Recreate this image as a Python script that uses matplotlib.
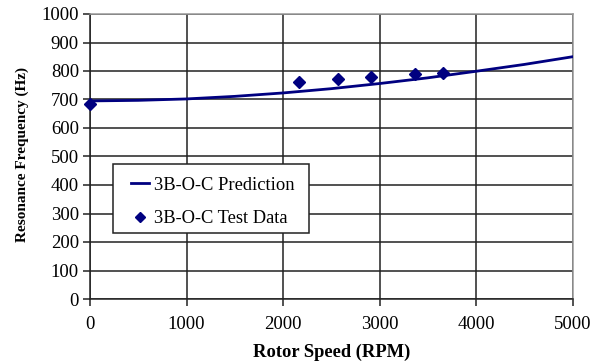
import matplotlib
matplotlib.use("Agg")
import matplotlib.pyplot as plt
from matplotlib.lines import Line2D
from matplotlib.patches import Rectangle

pred_rpm = [0, 500, 1000, 1500, 2000, 2500, 3000, 3500, 4000, 4500, 5000]
pred_freq = [695, 697, 702, 711, 723, 738, 756, 776, 799, 823, 850]
test_rpm = [0, 2170, 2570, 2910, 3370, 3655]
test_freq = [684, 762, 771, 778, 789, 794]
xticks = [0, 1000, 2000, 3000, 4000, 5000]
yticks = list(range(0, 1001, 100))

plt.rcParams['font.family'] = ['Liberation Serif', 'DejaVu Serif']

W, H = 482.5, 285.0
fig = plt.figure(figsize=(5.94, 3.64), dpi=100)
ax = fig.add_axes([90/594, 1 - 299/364, W/594, H/364])

navy = '#000080'
ax.plot(pred_rpm, pred_freq, color=navy, lw=2, zorder=3, label='3B-O-C Prediction')
ax.plot(test_rpm, test_freq, linestyle='none', marker='D', ms=6.5, color=navy,
        zorder=4, clip_on=False, label='3B-O-C Test Data')

ax.set_xlim(0, 5000)
ax.set_ylim(0, 1000)
ax.set_xticks(xticks)
ax.set_yticks(yticks)
ax.grid(True, color='#222222', lw=1.1)
ax.set_axisbelow(True)
ax.tick_params(axis='both', labelsize=13.5, direction='out', length=5, width=1.1, color='#222222')
ax.tick_params(axis='x', pad=7)
ax.tick_params(axis='y', pad=3)
for s in ['top', 'right']:
    ax.spines[s].set_color('#999999')
    ax.spines[s].set_linewidth(1.1)
for s in ['left', 'bottom']:
    ax.spines[s].set_color('#222222')
    ax.spines[s].set_linewidth(1.1)

ax.set_xlabel('Rotor Speed (RPM)', fontsize=13.3, fontweight='bold')
ax.set_ylabel('Resonance Frequency (Hz)', fontsize=11, fontweight='bold')
ax.xaxis.set_label_coords(0.5, -(352 - 299) / H, transform=ax.transAxes)
ax.xaxis.label.set_va('center')
ax.yaxis.set_label_coords(-(90 - 22) / W, (299 - 155) / H, transform=ax.transAxes)
ax.yaxis.label.set_va('center')

# legend frame
box = Rectangle(((113 - 90) / W, (299 - 233) / H), (309 - 113) / W, (233 - 164) / H,
                transform=ax.transAxes, facecolor='white', edgecolor='#222222',
                lw=1.1, zorder=5)
ax.add_patch(box)

handles = [Line2D([0], [0], color=navy, lw=2),
           Line2D([0], [0], linestyle='none', marker='D', ms=5, color=navy)]
leg = ax.legend(handles, ['3B-O-C Prediction', '3B-O-C Test Data'],
                loc='upper left', bbox_to_anchor=((131 - 90) / W, (299 - 176.5) / H),
                fontsize=13.3, frameon=False, borderpad=0, labelspacing=0.92,
                handlelength=1.0, handletextpad=0.22, borderaxespad=0)
leg.set_zorder(6)

fig.savefig('out.png', dpi=100)
